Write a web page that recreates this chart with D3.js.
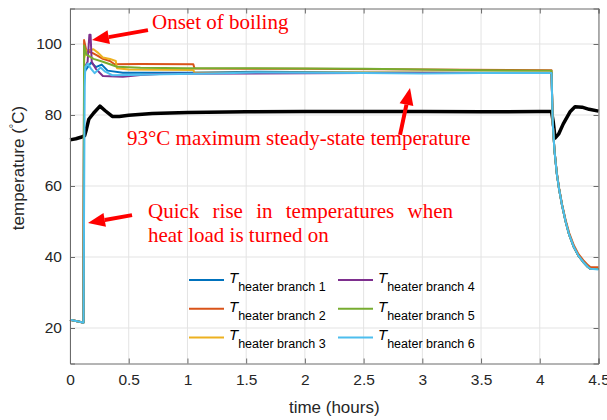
<!DOCTYPE html>
<html>
<head>
<meta charset="utf-8">
<script src="https://cdn.jsdelivr.net/npm/d3@7"></script>
<style>
  body { margin: 0; background: #fff; }
  svg { display: block; }
</style>
</head>
<body>
<svg id="chart" width="607" height="420"></svg>
<script>
// [time (h), temperature (C)]
var blackLine = [[0,73],[0.05,73.3],[0.1,73.8],[0.125,74.2],[0.14,76],[0.16,78.8],[0.2,80.5],[0.255,82.5],[0.3,81.2],[0.36,79.6],[0.42,79.6],[0.5,79.9],[0.7,80.4],[1.0,80.7],[1.5,80.9],[2.0,81],[2.5,81],[3.0,81],[3.5,80.9],[4.0,81],[4.1,81],[4.115,78],[4.13,73.5],[4.16,74.6],[4.2,77.5],[4.26,81],[4.3,82.3],[4.36,82.2],[4.42,81.6],[4.5,81.1]]

var branch1 = [[0,22.3],[0.1,21.6],[0.115,21.5],[0.12,90],[0.13,92.5],[0.18,94.8],[0.22,93.5],[0.27,94.2],[0.32,92.5],[0.45,91.9],[1.0,91.9],[1.6,92.2],[2.5,92],[3.5,91.9],[4.1,91.9],[4.11,78],[4.125,70],[4.145,63.5],[4.165,59],[4.19,54.5],[4.22,50],[4.25,46.3],[4.29,42.8],[4.33,40.3],[4.37,38.6],[4.41,37.2],[4.43,36.7],[4.5,36.6]]
var branch2 = [[0,22.3],[0.1,21.6],[0.115,21.5],[0.12,101.1],[0.14,98],[0.19,97.5],[0.23,96.8],[0.28,95.8],[0.34,95.2],[0.38,94.3],[0.6,94.4],[1.05,94.3],[1.06,93.1],[2.0,93],[3.0,92.8],[4.1,92.6],[4.11,78],[4.125,70.2],[4.145,63.8],[4.165,59.3],[4.19,54.8],[4.22,50.4],[4.25,46.8],[4.29,43.3],[4.33,40.8],[4.37,39.1],[4.41,37.7],[4.43,37.2],[4.5,37.1]]
var branch3 = [[0,22.3],[0.1,21.6],[0.115,21.5],[0.12,96],[0.14,98.2],[0.2,98.5],[0.24,97.5],[0.28,96.2],[0.34,95.8],[0.39,95.2],[0.4,93.2],[0.5,92.8],[1.05,92.7],[1.06,91.9],[2.5,92],[4.1,91.9],[4.11,78],[4.125,70],[4.145,63.5],[4.165,59],[4.19,54.5],[4.22,50],[4.25,46.3],[4.29,42.8],[4.33,40.3],[4.37,38.6],[4.41,37.2],[4.43,36.7],[4.5,36.6]]
var branch4 = [[0,22.3],[0.1,21.6],[0.115,21.5],[0.12,93],[0.15,95],[0.165,102.6],[0.175,102.6],[0.185,95],[0.22,93],[0.28,91],[0.45,90.8],[0.6,91.3],[0.8,91.6],[2.5,91.8],[4.1,91.8],[4.11,78],[4.125,70],[4.145,63.5],[4.165,59],[4.19,54.5],[4.22,50],[4.25,46.3],[4.29,42.8],[4.33,40.3],[4.37,38.6],[4.41,37.2],[4.43,36.7],[4.5,36.6]]
var branch5 = [[0,22.3],[0.1,21.6],[0.115,21.5],[0.12,99.6],[0.14,97],[0.2,95.8],[0.28,95],[0.34,94.3],[0.4,93.6],[0.6,93.3],[1.0,93.2],[1.5,93.2],[2.0,93.1],[2.5,93],[3.0,92.8],[3.5,92.6],[4.1,92.5],[4.11,78],[4.125,70],[4.145,63.5],[4.165,59],[4.19,54.5],[4.22,50],[4.25,46.3],[4.29,42.8],[4.33,40.3],[4.37,38.6],[4.41,37.2],[4.43,36.7],[4.5,36.6]]
var branch6 = [[0,22.3],[0.1,21.6],[0.115,21.5],[0.125,88],[0.13,93.5],[0.15,94.5],[0.18,93],[0.21,91.8],[0.26,93.4],[0.3,92.2],[0.36,91.2],[0.5,91.3],[0.8,91.5],[1.2,91.7],[1.6,92],[2.0,91.9],[2.5,91.8],[3.0,91.7],[3.5,91.8],[4.1,91.8],[4.11,78],[4.125,70],[4.145,63.5],[4.165,59],[4.19,54.5],[4.22,50],[4.25,46.3],[4.29,42.8],[4.33,40.3],[4.37,38.6],[4.41,37.2],[4.43,36.7],[4.5,36.5]]

var branchNames = ["heater branch 1","heater branch 2","heater branch 3","heater branch 4","heater branch 5","heater branch 6"]
var branchColors = ["#0072BD","#D95319","#EDB120","#7E2F8E","#77AC30","#4DBEEE"]
var xTicks = [0,0.5,1,1.5,2,2.5,3,3.5,4,4.5]
var yTicks = [20,40,60,80,100]

var svg = d3.select("#chart")
var box = {left:70, right:598.5, top:8.5, bottom:363.5}

var x = d3.scaleLinear().domain([0,4.5]).range([box.left, box.right])
var y = d3.scaleLinear().domain([10,110]).range([box.bottom, box.top])

// grid
var grid = svg.append("g").attr("stroke","#e3e3e3").attr("stroke-width",1)
grid.selectAll(".gx").data(xTicks).enter().append("line")
  .attr("x1",d => x(d)).attr("x2",d => x(d)).attr("y1",box.top).attr("y2",box.bottom)
grid.selectAll(".gy").data(yTicks).enter().append("line")
  .attr("y1",d => y(d)).attr("y2",d => y(d)).attr("x1",box.left).attr("x2",box.right)

// series
var line = d3.line().x(d => x(d[0])).y(d => y(d[1]))
var allBranches = [branch1,branch2,branch3,branch4,branch5,branch6]

svg.append("path").datum(blackLine)
  .attr("d",line).attr("fill","none").attr("stroke","#000")
  .attr("stroke-width",3.5).attr("stroke-linejoin","round")

svg.append("g").selectAll("path").data(allBranches).enter().append("path")
  .attr("d",line).attr("fill","none")
  .attr("stroke",(d,i) => branchColors[i])
  .attr("stroke-width",2).attr("stroke-linejoin","round")

// axes
var font = "'Liberation Sans', Arial, sans-serif"
var xAxis = svg.append("g").attr("transform","translate(0," + box.bottom + ")")
  .call(d3.axisBottom(x).tickValues(xTicks).tickSize(-5).tickPadding(10).tickFormat(d3.format("")))
var xTop = svg.append("g").attr("transform","translate(0," + box.top + ")")
  .call(d3.axisTop(x).tickValues(xTicks).tickSize(-5).tickFormat(""))
var yAxis = svg.append("g").attr("transform","translate(" + box.left + ",0)")
  .call(d3.axisLeft(y).tickValues(yTicks).tickSize(-5).tickPadding(8))
var yRight = svg.append("g").attr("transform","translate(" + box.right + ",0)")
  .call(d3.axisRight(y).tickValues(yTicks).tickSize(-5).tickFormat(""))

;[xAxis,xTop,yAxis,yRight].forEach(function(a){
  a.selectAll(".domain").attr("stroke","#6b6b6b")
  a.selectAll(".tick line").attr("stroke","#6b6b6b")
  a.selectAll("text").attr("fill","#262626").style("font-family",font).style("font-size","15.5px")
})

svg.append("text").attr("x",(box.left+box.right)/2).attr("y",413)
  .attr("text-anchor","middle").style("font-family",font).style("font-size","17px").attr("fill","#262626")
  .text("time (hours)")

var ylab = svg.append("text").attr("transform","translate(24,168) rotate(-90)")
  .attr("text-anchor","middle").style("font-family",font).style("font-size","17px").attr("fill","#262626")
ylab.append("tspan").text("temperature (")
ylab.append("tspan").attr("dy",-7).style("font-size","11px").text("°")
ylab.append("tspan").attr("dy",7).text("C)")

// legend
var legend = svg.append("g")
branchNames.forEach(function(name,i){
  var col = Math.floor(i/3), row = i%3
  var lx = 189 + col*149, ly = 280 + row*28.7
  legend.append("line").attr("x1",lx).attr("x2",lx+35).attr("y1",ly).attr("y2",ly)
    .attr("stroke",branchColors[i]).attr("stroke-width",2)
  var t = legend.append("text").attr("x",lx+40).attr("y",ly+3).attr("fill","#000")
    .style("font-family",font)
  t.append("tspan").style("font-style","italic").style("font-size","15px").text("T")
  t.append("tspan").attr("dy",8).style("font-size","12.5px").text(name)
})

// annotations (positions in data units)
var red = "#ff0000"
function arrow(t0,v0,t1,v1){
  var x0 = x(t0), y0 = y(v0), x1 = x(t1), y1 = y(v1)
  var ang = Math.atan2(y1-y0, x1-x0), len = 17, half = 7
  var bx = x1 - len*Math.cos(ang), by = y1 - len*Math.sin(ang)
  svg.append("line").attr("x1",x0).attr("y1",y0).attr("x2",bx).attr("y2",by)
    .attr("stroke",red).attr("stroke-width",4)
  var px = -Math.sin(ang)*half, py = Math.cos(ang)*half
  svg.append("path").attr("fill",red)
    .attr("d","M" + x1 + "," + y1 + "L" + (bx+px) + "," + (by+py) + "L" + (bx-px) + "," + (by-py) + "Z")
}
var serif = "'Liberation Serif', 'Times New Roman', serif"
function note(t,v,txt){
  return svg.append("text").attr("x",x(t)).attr("y",y(v)).attr("fill",red)
    .style("font-family",serif).style("font-size","21px").text(txt)
}

arrow(0.664,103.9,0.187,101.1)
note(0.698,104.1,"Onset of boiling")

arrow(2.81,74.4,2.895,87.6)
note(0.485,71.6,"93°C maximum steady-state temperature")

arrow(0.528,51.8,0.153,49.6)
// justified first line
var words = ["Quick","rise","in","temperatures","when"]
var lineStart = x(0.664), lineEnd = 453
var wEls = words.map(w => note(0.664,51.0,w))
var widths = wEls.map(e => e.node().getComputedTextLength())
var gap = (lineEnd - lineStart - d3.sum(widths)) / (words.length-1)
var cx = lineStart
wEls.forEach(function(e,i){ e.attr("x",cx); cx += widths[i] + gap })
note(0.664,44.2,"heat load is turned on")
</script>
</body>
</html>
